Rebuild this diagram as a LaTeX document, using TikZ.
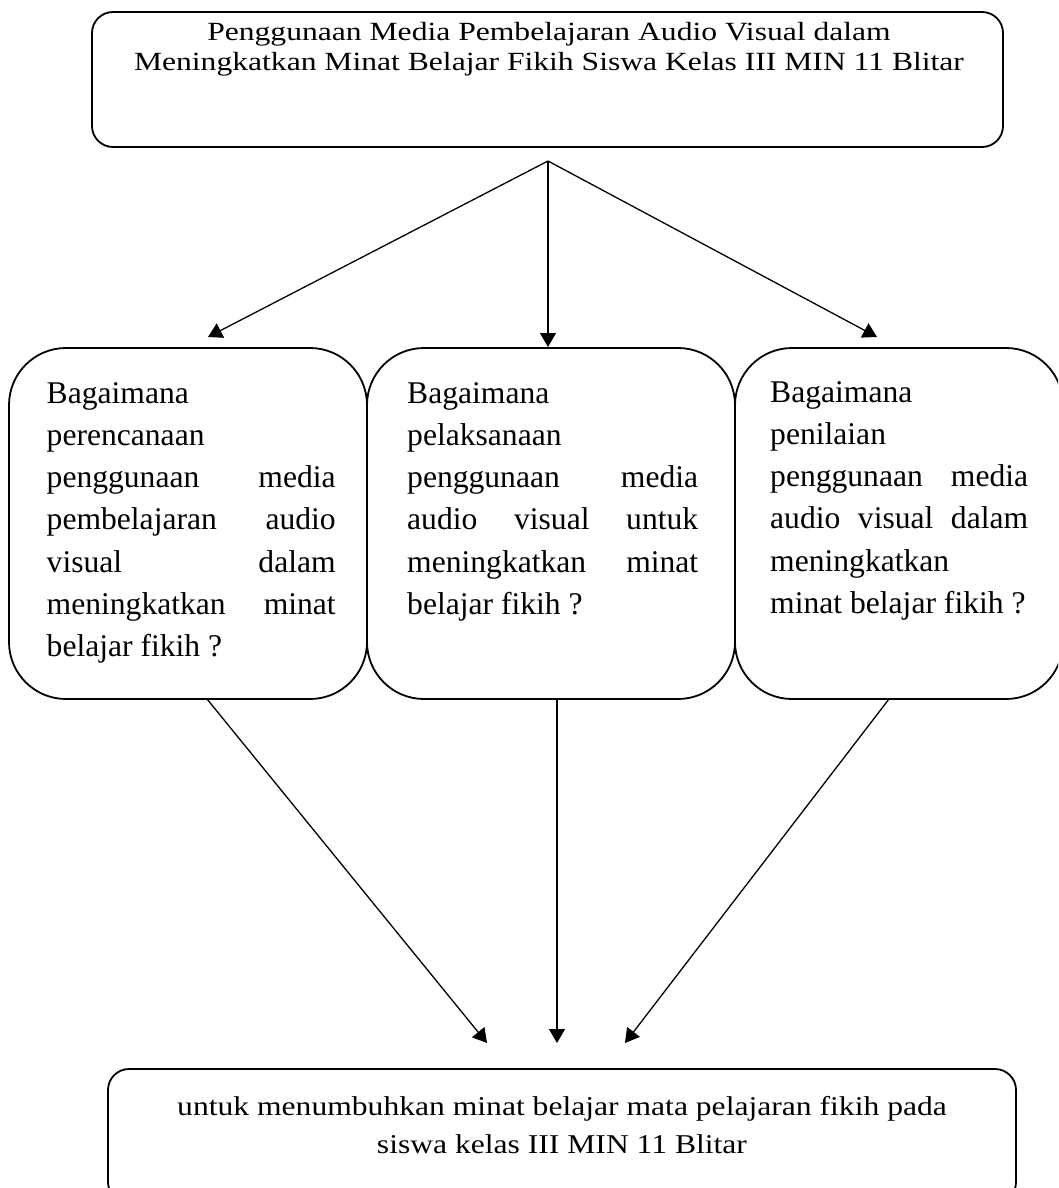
\documentclass[tikz,border=0pt]{standalone}
\usepackage{fontspec}
\usepackage{graphicx}
\setmainfont{Liberation Serif}
\usetikzlibrary{arrows.meta}
\begin{document}
\begin{tikzpicture}[x=1pt,y=1pt,
  boxline/.style={draw, line width=1.8pt, inner sep=0pt, outer sep=0pt},
  bigbox/.style={boxline, rounded corners=57pt},
  smallbox/.style={boxline, rounded corners=21pt},
  qtext/.style={inner sep=0pt, anchor=base west, font=\fontsize{31.6pt}{42.3pt}\selectfont},
  ctext/.style={inner sep=0pt, anchor=base, font=\fontsize{31.6pt}{36pt}\selectfont},
  arr/.style={line width=1.3pt, -{Triangle[length=14pt,width=16pt]}}]
\useasboundingbox (0,0) rectangle (1058,-1188);
\clip (0,0) rectangle (1058,-1188);
% boxes
\node[smallbox, minimum width=911pt, minimum height=135pt] (top) at (547.5,-79.5) {};
\node[bigbox, minimum width=358pt, minimum height=351pt] (lbox) at (188,-523.5) {};
\node[bigbox, minimum width=368pt, minimum height=351pt] (mbox) at (551,-523.5) {};
\node[bigbox, minimum width=328pt, minimum height=351pt] (rbox) at (899,-523.5) {};
\node[smallbox, minimum width=908pt, minimum height=134pt] (bot) at (562,-1136) {};
% texts
\node[ctext] (toptxt) at (549,-41) {\scalebox{1}[0.83]{\begin{tabular}[t]{@{}c@{}}Penggunaan Media Pembelajaran Audio Visual dalam\\Meningkatkan Minat Belajar Fikih Siswa Kelas III MIN 11 Blitar\end{tabular}}};
\node[qtext] (ltxt) at (46.5,-403) {\parbox[t]{289pt}{Bagaimana\\perencanaan\\penggunaan\hfill media\\pembelajaran\hfill audio\\visual\hfill dalam\\meningkatkan\hfill minat\\belajar fikih ?}};
\node[qtext] (mtxt) at (407,-403) {\parbox[t]{291pt}{Bagaimana\\pelaksanaan\\penggunaan\hfill media\\audio\hfill visual\hfill untuk\\meningkatkan\hfill minat\\belajar fikih ?}};
\node[qtext] (rtxt) at (770,-402) {\parbox[t]{258pt}{Bagaimana\\penilaian\\penggunaan\hfill media\\audio\hfill visual\hfill dalam\\meningkatkan\\minat belajar fikih ?}};
\node[ctext] (bottxt) at (562,-1115) {\scalebox{1}[0.86]{\begin{tabular}[t]{@{}c@{}}untuk menumbuhkan minat belajar mata pelajaran fikih pada\\[8.2pt]siswa kelas III MIN 11 Blitar\end{tabular}}};
% connector points
\coordinate (apex) at (548,-161);
\coordinate (t1) at (208,-337);
\coordinate (t2) at (548,-347);
\coordinate (t3) at (877,-337);
\coordinate (s1) at (207,-699);
\coordinate (s2) at (557,-699);
\coordinate (s3) at (889,-699);
\coordinate (e1) at (487,-1043);
\coordinate (e2) at (557,-1043);
\coordinate (e3) at (625,-1043);
% arrows
\draw[arr] (apex) -- (t1);
\draw[arr] (apex) -- (t2);
\draw[arr] (apex) -- (t3);
\draw[arr] (s1) -- (e1);
\draw[arr] (s2) -- (e2);
\draw[arr] (s3) -- (e3);
\end{tikzpicture}
\end{document}
